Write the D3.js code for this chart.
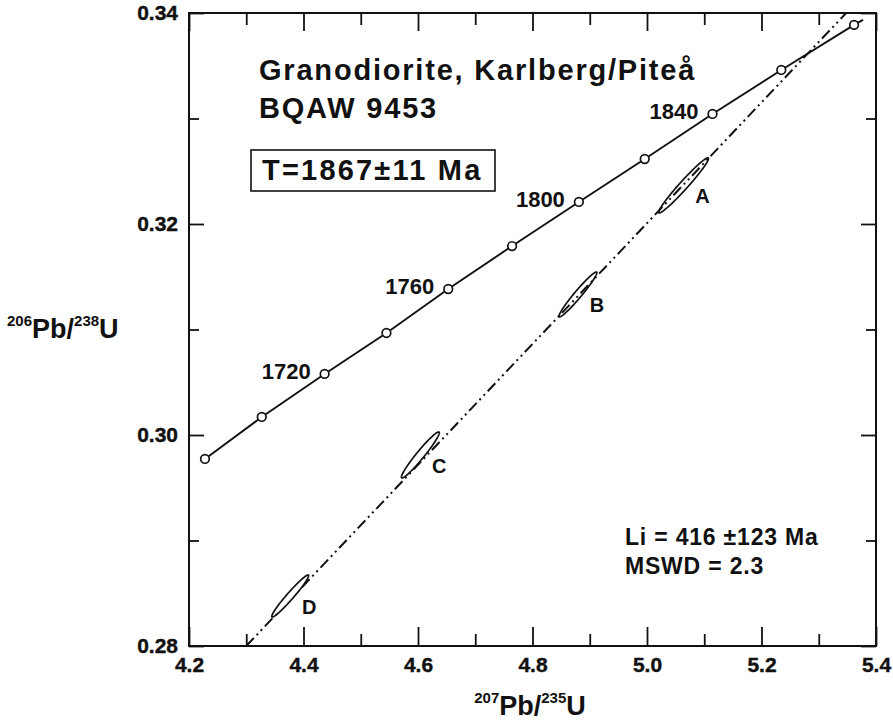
<!DOCTYPE html>
<html><head><meta charset="utf-8">
<script src="https://cdn.jsdelivr.net/npm/d3@7"></script>
<style>
body{margin:0;background:#fff;}
svg{display:block;}
text{font-family:"Liberation Sans",Arial,Helvetica,sans-serif;font-weight:bold;fill:#111;}
</style></head>
<body>
<script>
// ---- data ----
const concordiaAges = [1680,1700,1720,1740,1760,1780,1800,1820,1840,1860,1880];
const concordiaX = [4.2279,4.3271,4.4369,4.5449,4.6528,4.7643,4.8810,4.9960,5.1144,5.2346,5.3617];
const concordiaY = [0.29773,0.30171,0.30579,0.30967,0.31384,0.31791,0.32209,0.32616,0.33043,0.33460,0.33887];
const concordiaTailX = [5.3774];
const concordiaTailY = [0.33935];
const labeledAges = [1720,1760,1800,1840];

const discordiaX = [4.300,5.348];
const discordiaY = [0.2800,0.3400];

const ellLabels = ["A","B","C","D"];
const ellX = [5.0639,4.8793,4.6041,4.3768];
const ellY = [0.32366,0.31332,0.29811,0.28474];
const ellSx = [0.0435,0.0331,0.0331,0.0322];
const ellSy = [0.00261,0.00213,0.00218,0.00199];
const ellRho = [0.975,0.97,0.965,0.97];
const ellFilled = [false,false,true,true];

const xTicks = [4.2,4.3,4.4,4.5,4.6,4.7,4.8,4.9,5.0,5.1,5.2,5.3,5.4];
const xTickLabels = ["4.2","4.4","4.6","4.8","5.0","5.2","5.4"];
const yTicks = [0.28,0.29,0.30,0.31,0.32,0.33,0.34];
const yTickLabels = ["0.28","0.30","0.32","0.34"];

const titleLines = ["Granodiorite, Karlberg/Piteå","BQAW 9453"];
const ageText = "T=1867±11 Ma";
const statLines = ["Li = 416 ±123 Ma","MSWD = 2.3"];

// ---- layout ----
const W=893,H=723;
const L=189,R=876,T=13,B=646;
const x=d3.scaleLinear().domain([4.2,5.4]).range([L,R]);
const y=d3.scaleLinear().domain([0.28,0.34]).range([B,T]);

const svg=d3.select("body").append("svg").attr("width",W).attr("height",H);
svg.append("defs").append("clipPath").attr("id","clip")
  .append("rect").attr("x",L).attr("y",T).attr("width",R-L).attr("height",B-T);

const isMajorX=v=>Math.abs(Math.round(v*10)%2)===0;
const isMajorY=v=>Math.abs(Math.round(v*100)%2)===0;
const fmtX=v=>xTickLabels.includes(v.toFixed(1))?v.toFixed(1):"";
const fmtY=v=>yTickLabels.includes(v.toFixed(2))?v.toFixed(2):"";

function styleAxis(g){
  g.select(".domain").remove();
  g.attr("font-family","'Liberation Sans',Arial,sans-serif").attr("font-size",21).attr("font-weight","bold");
  g.selectAll("text").attr("font-weight","bold").style("font-size","21px").style("font-weight","700")
    .attr("fill","#111").attr("stroke","#111").attr("stroke-width",0.4);
}
const gb=svg.append("g").attr("transform",`translate(0,${B})`)
  .call(d3.axisBottom(x).tickValues(xTicks).tickSize(0).tickPadding(11).tickFormat(fmtX));
styleAxis(gb);
gb.selectAll(".tick text").attr("dy","0.71em");
gb.selectAll(".tick").append("line").attr("y1",0).attr("y2",d=>isMajorX(d)?-19:-12).attr("stroke","#111").attr("stroke-width",1.8);

const gt=svg.append("g").attr("transform",`translate(0,${T})`)
  .call(d3.axisTop(x).tickValues(xTicks).tickSize(0).tickFormat(""));
styleAxis(gt);
gt.selectAll(".tick").append("line").attr("y1",0).attr("y2",d=>isMajorX(d)?18:12).attr("stroke","#111").attr("stroke-width",1.8);

const gl=svg.append("g").attr("transform",`translate(${L},0)`)
  .call(d3.axisLeft(y).tickValues(yTicks).tickSize(0).tickPadding(11).tickFormat(fmtY));
styleAxis(gl);
gl.selectAll(".tick").append("line").attr("x1",0).attr("x2",d=>isMajorY(d)?15:10).attr("stroke","#111").attr("stroke-width",1.8);

const gr=svg.append("g").attr("transform",`translate(${R},0)`)
  .call(d3.axisRight(y).tickValues(yTicks).tickSize(0).tickFormat(""));
styleAxis(gr);
gr.selectAll(".tick").append("line").attr("x1",0).attr("x2",d=>isMajorY(d)?-15:-10).attr("stroke","#111").attr("stroke-width",1.8);

// frame
svg.append("rect").attr("x",L).attr("y",T).attr("width",R-L).attr("height",B-T)
  .attr("fill","none").attr("stroke","#111").attr("stroke-width",2);

const plot=svg.append("g").attr("clip-path","url(#clip)");

// discordia
const disc=discordiaX.map((v,i)=>[v,discordiaY[i]]);
plot.append("path").attr("d",d3.line().x(d=>x(d[0])).y(d=>y(d[1]))(disc))
  .attr("fill","none").attr("stroke","#111").attr("stroke-width",2)
  .attr("stroke-dasharray","11,4,2,4,2,4");

// concordia
const conc=concordiaX.map((v,i)=>[v,concordiaY[i]]).concat(concordiaTailX.map((v,i)=>[v,concordiaTailY[i]]));
plot.append("path").attr("d",d3.line().x(d=>x(d[0])).y(d=>y(d[1]))(conc))
  .attr("fill","none").attr("stroke","#111").attr("stroke-width",1.9);

// error ellipses
const ellLine=d3.line().x(d=>x(d[0])).y(d=>y(d[1])).curve(d3.curveLinearClosed);
ellLabels.forEach((lab,i)=>{
  const pts=d3.range(0,360,3).map(a=>{
    const t=a*Math.PI/180;
    return [ellX[i]+ellSx[i]*Math.cos(t),
            ellY[i]+ellSy[i]*(ellRho[i]*Math.cos(t)+Math.sqrt(1-ellRho[i]*ellRho[i])*Math.sin(t))];
  });
  plot.append("path").attr("d",ellLine(pts))
    .attr("fill",ellFilled[i]?"#fff":"none").attr("stroke","#111").attr("stroke-width",1.7);
  svg.append("text").attr("x",x(ellX[i])+19).attr("y",y(ellY[i])+18)
    .attr("text-anchor","middle").style("font-size","20px").style("font-weight","bold").text(lab);
});

// concordia age markers
plot.selectAll("circle.age").data(concordiaAges).enter().append("circle")
  .attr("cx",(d,i)=>x(concordiaX[i])).attr("cy",(d,i)=>y(concordiaY[i])).attr("r",4.3)
  .attr("fill","#fff").attr("stroke","#111").attr("stroke-width",1.7);

labeledAges.forEach(a=>{
  const i=concordiaAges.indexOf(a);
  svg.append("text").attr("x",x(concordiaX[i])-14).attr("y",y(concordiaY[i])+5)
    .attr("text-anchor","end").style("font-size","22px").text(a);
});

// title texts
titleLines.forEach((s,i)=>{
  svg.append("text").attr("x",259).attr("y",80+i*38)
    .style("font-size","29px").style("letter-spacing","1.8px").text(s);
});
svg.append("rect").attr("x",251).attr("y",150).attr("width",244).attr("height",41)
  .attr("fill","none").attr("stroke","#111").attr("stroke-width",1.6);
svg.append("text").attr("x",262).attr("y",180)
  .style("font-size","29px").style("letter-spacing","2.2px").text(ageText);

statLines.forEach((s,i)=>{
  svg.append("text").attr("x",625).attr("y",545+i*29)
    .style("font-size","23px").style("letter-spacing","0.8px").text(s);
});

// axis titles
function iso(g,parts){
  const t=g.append("text");
  parts.forEach(p=>{
    t.append("tspan").text(p[0]).style("font-size",p[1]?"15px":"27px")
      .attr("baseline-shift",p[1]?"80%":null);
  });
  return t;
}
const yt=iso(svg,[["206",1],["Pb/",0],["238",1],["U",0]]);
yt.attr("x",7).attr("y",338);
const xt=iso(svg,[["207",1],["Pb/",0],["235",1],["U",0]]);
xt.attr("x",530).attr("y",715).attr("text-anchor","middle");
</script>
</body></html>
